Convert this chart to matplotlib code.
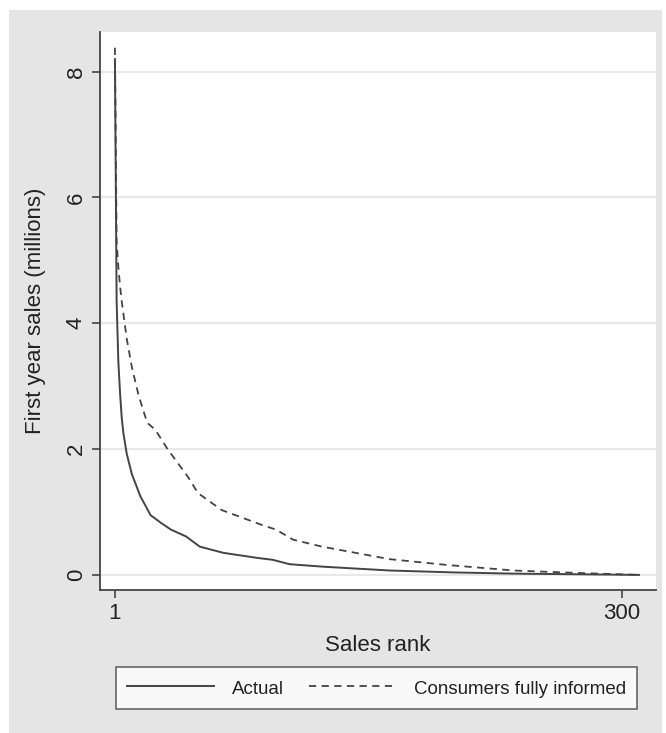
import matplotlib
matplotlib.use("Agg")
import matplotlib.pyplot as plt
from matplotlib.patches import Rectangle

plt.rcParams['font.family'] = ['Liberation Sans', 'DejaVu Sans']

rank_actual = [1, 2, 3, 4, 5, 6, 8, 11, 16, 22, 28, 34, 43, 51, 65, 85, 94, 104, 124, 163, 200, 236, 275, 310]
sales_actual = [8.2, 4.35, 3.4, 2.9, 2.5, 2.25, 1.92, 1.6, 1.25, 0.95, 0.83, 0.72, 0.61, 0.45, 0.35, 0.27, 0.24, 0.17, 0.13, 0.07, 0.04, 0.02, 0.01, 0.0]

rank_informed = [1, 2, 3, 4, 5, 7, 8, 11, 15, 20, 25, 32, 38, 44, 50, 64, 74, 88, 96, 106, 123, 143, 163, 196, 236, 275, 310]
sales_informed = [8.38, 5.3, 4.9, 4.6, 4.35, 3.95, 3.75, 3.3, 2.85, 2.42, 2.3, 2.0, 1.78, 1.56, 1.3, 1.03, 0.93, 0.79, 0.72, 0.56, 0.45, 0.35, 0.25, 0.16, 0.07, 0.03, 0.0]

y_ticks = [0, 2, 4, 6, 8]
x_ticks = [1, 300]

bg = '#E5E5E5'
dark = '#444444'
fig = plt.figure(figsize=(6.66, 7.33), dpi=100, facecolor='white')
fig.patches.append(Rectangle((9/666, 0), 653/666, 723/733, transform=fig.transFigure,
                             facecolor=bg, edgecolor='none', zorder=-10))

ax = fig.add_axes([100/666, 1-590/733, 556/666, 558/733])
ax.set_facecolor('white')
ax.plot(rank_actual, sales_actual, color=dark, lw=1.4, label='Actual', zorder=3)
ax.plot(rank_informed, sales_informed, color=dark, lw=1.3, linestyle=(0, (4, 3)),
        label='Consumers fully informed', zorder=2)

ax.set_xlim(-7.8, 320)
ax.set_ylim(-0.24, 8.63)
ax.set_yticks(y_ticks)
ax.set_xticks(x_ticks)
ax.set_yticklabels([str(v) for v in y_ticks], rotation=90, va='center')
ax.tick_params(axis='both', labelsize=16, colors=dark, length=6, width=1.2, labelcolor='#222222')
ax.grid(axis='y', color='#E8E8E8', lw=1.6)
ax.set_axisbelow(True)
for s in ['top', 'right']:
    ax.spines[s].set_visible(False)
for s in ['left', 'bottom']:
    ax.spines[s].set_color(dark)
    ax.spines[s].set_linewidth(1.3)

ax.set_ylabel('First year sales (millions)', fontsize=16, color='#222222', labelpad=14)
ax.set_xlabel('Sales rank', fontsize=16, color='#222222', labelpad=8)

leg = fig.legend(loc='center', bbox_to_anchor=(376.5/666, 1-688/733), ncol=2, fontsize=13.5,
                 frameon=True, fancybox=False, edgecolor=dark, facecolor='white',
                 handlelength=4.6, columnspacing=1.3, borderpad=0.6, borderaxespad=0,
                 handletextpad=1.0, handleheight=1.25)
leg.get_frame().set_linewidth(1.2)
for t in leg.get_texts():
    t.set_color('#222222')

fig.savefig('out.png', dpi=100, facecolor=fig.get_facecolor())
